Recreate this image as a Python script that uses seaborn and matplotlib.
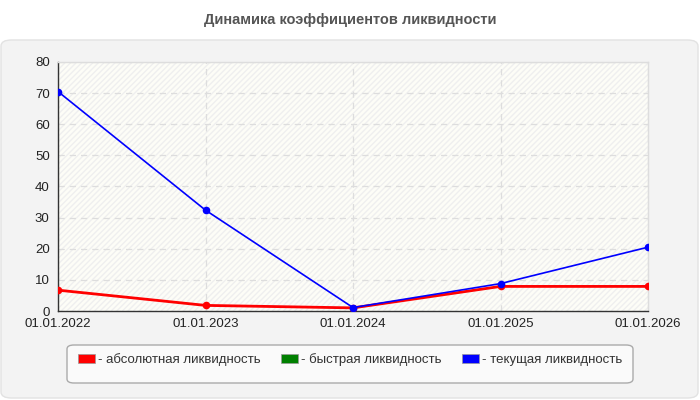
import matplotlib
matplotlib.use("Agg")
import matplotlib.pyplot as plt
from matplotlib.patches import FancyBboxPatch, Patch, Rectangle
import seaborn as sns
import pandas as pd

dates = ["01.01.2022", "01.01.2023", "01.01.2024", "01.01.2025", "01.01.2026"]
absolute = [6.7, 1.8, 1.0, 7.9, 7.9]
current = [70.5, 32.4, 1.1, 8.8, 20.5]
series_names = ["- абсолютная ликвидность", "- быстрая ликвидность", "- текущая ликвидность"]
series_colors = ["#ff0000", "#008000", "#0000ff"]
y_ticks = [0, 10, 20, 30, 40, 50, 60, 70, 80]

sns.set_theme(style="white")
plt.rcParams['font.family'] = ['Liberation Sans', 'DejaVu Sans']

fig = plt.figure(figsize=(7, 4), dpi=100)
fig.patch.set_facecolor("white")

# Panel background
panel = FancyBboxPatch((1/700, 2/400), 697/700, 358/400,
                       boxstyle="round,pad=0,rounding_size=0.015",
                       transform=fig.transFigure, facecolor="#f3f3f3",
                       edgecolor="#e2e2e2", linewidth=1.0, zorder=-10)
fig.patches.append(panel)

# Legend frame
lframe = FancyBboxPatch((67/700, 1 - 383/400), 566/700, 38/400,
                        boxstyle="round,pad=0,rounding_size=0.01",
                        transform=fig.transFigure, facecolor="#fafafa",
                        edgecolor="#aaaaaa", linewidth=1.0, zorder=-5)
fig.patches.append(lframe)

fig.text(0.5, 1 - 20/400, "Динамика коэффициентов ликвидности", ha="center", va="center",
         fontsize=10.5, fontweight="bold", color="#555555")

ax = fig.add_axes([58/700, 1 - 311/400, 590/700, 249/400])
ax.set_facecolor("#fdfdf7")
ax.add_patch(Rectangle((0, 0), 1, 1, transform=ax.transAxes, facecolor="none",
                       edgecolor="#efefef", hatch="//////", linewidth=0, zorder=0))

x = list(range(len(dates)))
df = pd.DataFrame({"x": x, "abs": absolute, "cur": current})
sns.lineplot(data=df, x="x", y="abs", ax=ax, color=series_colors[0], linewidth=2.0,
             marker="o", markersize=5.5, markeredgewidth=0, zorder=3)
sns.lineplot(data=df, x="x", y="cur", ax=ax, color=series_colors[2], linewidth=1.2,
             marker="o", markersize=5.5, markeredgewidth=0, zorder=4)

ax.set_xlim(0, len(dates) - 1)
ax.set_ylim(0, 80)
ax.set_xticks(x)
ax.set_xticklabels(dates)
ax.set_yticks(y_ticks)
ax.set_xlabel("")
ax.set_ylabel("")
ax.grid(True, color="#dddddd", linestyle=(0, (5, 4)), linewidth=0.9)
ax.set_axisbelow(True)
for s in ["top", "right"]:
    ax.spines[s].set_color("#dddddd")
    ax.spines[s].set_linewidth(1.0)
for s in ["left", "bottom"]:
    ax.spines[s].set_color("#333333")
    ax.spines[s].set_linewidth(1.0)
ax.tick_params(axis="both", which="both", length=4, width=1, color="#333333",
               labelsize=9.5, labelcolor="#222222", direction="out", pad=2)
ax.tick_params(axis="x", pad=1)

handles = [Patch(facecolor=c, edgecolor="#999999", linewidth=0.5) for c in series_colors]
leg = fig.legend(handles, series_names, loc="upper center", ncol=3,
                 bbox_to_anchor=(0.5, 1 - 353/400),
                 frameon=False, fontsize=9.5, handlelength=1.3, handleheight=0.7,
                 handletextpad=0.2, borderpad=0.0, borderaxespad=0,
                 columnspacing=1.55)
for t in leg.get_texts():
    t.set_color("#333333")

fig.savefig("out.png", dpi=100, facecolor=fig.get_facecolor())
